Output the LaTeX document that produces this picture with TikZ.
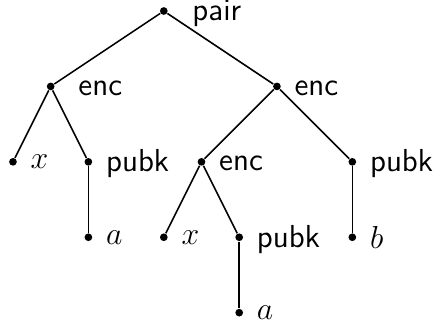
\documentclass[tikz,border=0pt]{standalone}
\usepackage{tikz}
\usetikzlibrary{positioning}
\tikzstyle{term} = [circle, fill=black, inner sep=0pt, minimum size=2.9pt]
\tikzstyle{word} = [font=\fontsize{12}{14}\sffamily\selectfont, yshift=-0.7pt]
\tikzstyle{edge} = [line width=0.6pt]
\begin{document}
\begin{tikzpicture}[on grid, every label/.style={font=\fontsize{12}{14}\selectfont, label distance=1.5pt}]
\useasboundingbox (-0.172,-4.178) rectangle (5.583,0.146);

\node (pair) [term, label={[word, label distance=5.6pt]right:pair}] at (2,0) {};

\node (enc1) [term, below left=1cm and 1.5cm of pair, label={[word, label distance=5.3pt]right:enc}] {};
\node (enc2) [term, below right=1cm and 1.5cm of pair, label={[word]right:enc}] {};

\node (x1) [term, below left=1cm and 0.5cm of enc1, label={right:$x$}] {};
\node (pubk1) [term, below right=1cm and 0.5cm of enc1, label={[word]right:pubk}] {};
\node (enc3) [term, below left=1cm and 1cm of enc2, label={[word]right:enc}] {};
\node (pubk2) [term, below right=1cm and 1cm of enc2, label={[word]right:pubk}] {};

\node (a1) [term, below=1cm of pubk1, label={right:$a$}] {};
\node (x2) [term, below left=1cm and 0.5cm of enc3, label={right:$x$}] {};
\node (pubk3) [term, below right=1cm and 0.5cm of enc3, label={[word]right:pubk}] {};
\node (b) [term, below=1cm of pubk2, label={right:$b$}] {};

\node (a2) [term, below=1cm of pubk3, label={right:$a$}] {};

\draw [edge] (pair) -- (enc1);
\draw [edge] (pair) -- (enc2);
\draw [edge] (enc1) -- (x1);
\draw [edge] (enc1) -- (pubk1);
\draw [edge] (pubk1) -- (a1);
\draw [edge] (enc2) -- (enc3);
\draw [edge] (enc2) -- (pubk2);
\draw [edge] (enc3) -- (x2);
\draw [edge] (enc3) -- (pubk3);
\draw [edge] (pubk3) -- (a2);
\draw [edge] (pubk2) -- (b);

\end{tikzpicture}
\end{document}
